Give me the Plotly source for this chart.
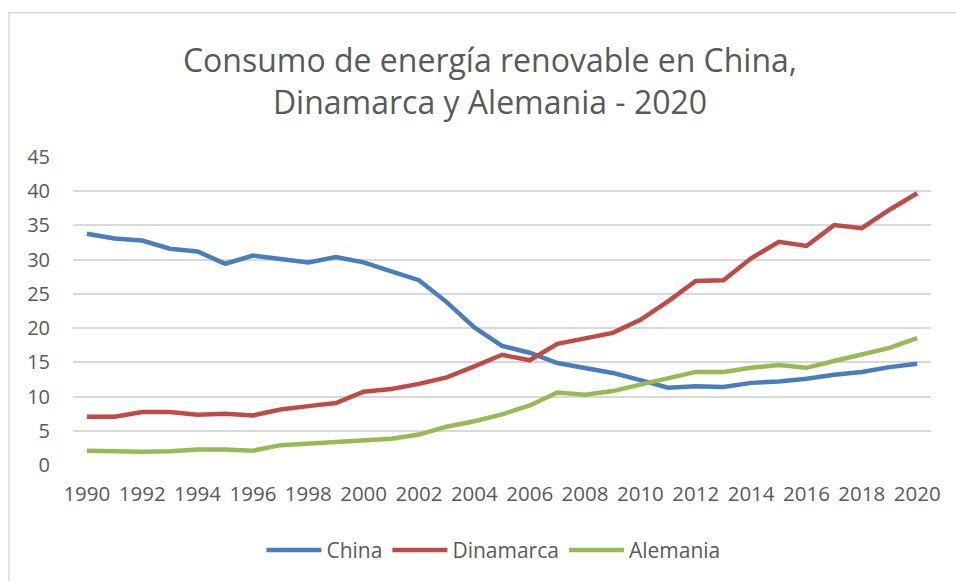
import plotly.graph_objects as go

years = list(range(1990, 2021))
china = [33.8, 33.1, 32.8, 31.6, 31.2, 29.4, 30.6, 30.05, 29.6, 30.4,
         29.6, 28.3, 27.0, 23.8, 20.1, 17.4, 16.4, 14.9, 14.2, 13.45,
         12.4, 11.3, 11.5, 11.4, 12.0, 12.2, 12.6, 13.2, 13.6, 14.3, 14.8]
dinamarca = [7.05, 7.05, 7.75, 7.75, 7.35, 7.5, 7.25, 8.1, 8.6, 9.05,
             10.7, 11.1, 11.85, 12.8, 14.4, 16.1, 15.3, 17.7, 18.5, 19.3,
             21.2, 23.9, 26.9, 27.0, 30.2, 32.6, 32.0, 35.05, 34.6, 37.3, 39.7]
alemania = [2.1, 1.95, 1.95, 2.0, 2.25, 2.25, 2.1, 2.9, 3.15, 3.35,
            3.65, 3.85, 4.45, 5.6, 6.4, 7.4, 8.7, 10.6, 10.25, 10.8,
            11.75, 12.7, 13.6, 13.6, 14.2, 14.6, 14.2, 15.2, 16.1, 17.1, 18.55]

series = [("China", china, "#4A7EBB"),
          ("Dinamarca", dinamarca, "#BE4B48"),
          ("Alemania", alemania, "#98B954")]

x_ticks = list(range(1990, 2021, 2))
y_ticks = list(range(0, 46, 5))

W, H = 956, 581
L, R, T, B = 73, 931, 156.7, 465.7

fig = go.Figure()
for name, vals, col in series:
    fig.add_trace(go.Scatter(x=years, y=vals, name=name, mode="lines",
                             line=dict(color=col, width=4.5)))

font_fam = "Open Sans, Noto Sans, DejaVu Sans, sans-serif"
fig.update_layout(
    width=W, height=H,
    margin=dict(l=L, r=W - R, t=T, b=H - B, pad=0),
    paper_bgcolor="white", plot_bgcolor="white",
    font=dict(family=font_fam, color="#595959"),
    title=dict(text="Consumo de energía renovable en China,<br>Dinamarca y Alemania - 2020",
               x=490 / W, xanchor="center", y=1 - 72 / H, yanchor="middle",
               xref="container", yref="container",
               font=dict(size=32, color="#595959", family=font_fam)),
    showlegend=True,
    legend=dict(orientation="h", x=0.49, xanchor="center",
                y=(B - 550) / (B - T), yanchor="middle",
                font=dict(size=21, color="#595959"), itemwidth=55,
                traceorder="normal"),
    xaxis=dict(range=[1989.5, 2020.5], tickmode="array", tickvals=x_ticks,
               ticktext=[str(v) for v in x_ticks], showgrid=False,
               zeroline=False, showline=False, ticks="",
               tickfont=dict(size=20.5, color="#595959"), ticklabelstandoff=14),
    yaxis=dict(range=[0, 45], tickmode="array", tickvals=y_ticks,
               ticktext=[str(v) for v in y_ticks], showgrid=True,
               gridcolor="#D9D9D9", gridwidth=1.5, zeroline=False,
               showline=False, ticks="",
               tickfont=dict(size=20, color="#595959"), ticklabelstandoff=22),
)

# chart frame (only top/left edges visible in the reference)
fig.add_shape(type="rect", xref="paper", yref="paper",
              x0=(9 - L) / (R - L), x1=(962 - L) / (R - L),
              y0=(B - 590) / (B - T), y1=(B - 12) / (B - T),
              line=dict(color="#D9D9D9", width=1.5), layer="below")

fig.write_html("out.html", config={"displayModeBar": False},
               post_script="document.body.style.margin='0';document.body.style.overflow='hidden';")
